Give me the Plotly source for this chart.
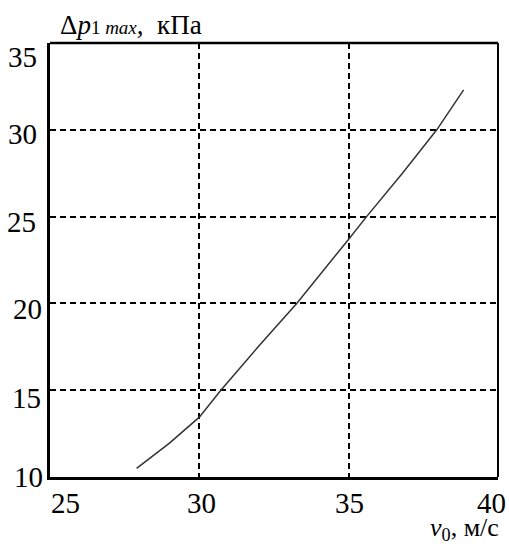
import plotly.graph_objects as go

# Data
v0 = [27.9, 29.0, 30.0, 30.72, 31.97, 33.26, 35.0, 35.6, 36.8, 37.95, 38.85]
dp = [10.5, 11.95, 13.45, 15.0, 17.5, 20.0, 23.7, 25.0, 27.5, 30.0, 32.3]

x_ticks = [25, 30, 35, 40]
y_ticks = [10, 15, 20, 25, 30, 35]

FONT = "Liberation Serif, Times New Roman, serif"
W, H = 509, 546
ML, MR, MT, MB = 50, 11, 43, 69
PW, PH = W - ML - MR, H - MT - MB


def px_x(px):
    return (px - ML) / PW


def px_y(py):
    return (H - MB - py) / PH


fig = go.Figure()
fig.add_trace(go.Scatter(x=v0, y=dp, mode="lines",
                         line=dict(color="#333333", width=1.5),
                         showlegend=False, hoverinfo="skip"))

fig.update_layout(
    width=W, height=H,
    margin=dict(l=ML, r=MR, t=MT, b=MB),
    paper_bgcolor="white", plot_bgcolor="white",
    font=dict(family=FONT, color="black", size=28),
    xaxis=dict(range=[25, 40], tickvals=[30, 35], showticklabels=False, ticks="",
               showgrid=True, gridcolor="black", gridwidth=1.5, griddash="6px,4px",
               showline=True, linecolor="black", linewidth=3, zeroline=False),
    yaxis=dict(range=[10, 35], tickvals=[15, 20, 25, 30], showticklabels=False, ticks="",
               showgrid=True, gridcolor="black", gridwidth=1.5, griddash="6px,4px",
               showline=True, linecolor="black", linewidth=3, zeroline=False),
)

# top and right frame lines (thinner)
fig.add_shape(type="line", xref="paper", yref="paper", x0=0, x1=1, y0=1, y1=1,
              line=dict(color="black", width=2.5))
fig.add_shape(type="line", xref="paper", yref="paper", x0=1, x1=1, y0=0, y1=1,
              line=dict(color="black", width=2))

# y tick labels (positioned like the reference)
y_shift = {10: 0, 15: -8, 20: -5.5, 25: -5, 30: -4, 35: -14}
y_xshift = {10: -5, 15: -7, 20: -6, 25: -12, 30: -11, 35: -11}
for v in y_ticks:
    fig.add_annotation(x=25, y=v, xref="x", yref="y", text=str(v), showarrow=False,
                       xanchor="right", yanchor="middle", xshift=y_xshift[v],
                       yshift=y_shift[v],
                       font=dict(family=FONT, size=29, color="black"))

# x tick labels
x_xshift = {25: 15, 30: 2, 35: 1, 40: -7}
for v in x_ticks:
    fig.add_annotation(x=v, y=10, xref="x", yref="y", text=str(v), showarrow=False,
                       xanchor="center", yanchor="middle", xshift=x_xshift[v], yshift=-26,
                       font=dict(family=FONT, size=29, color="black"))

# axis titles
fig.add_annotation(x=px_x(58), y=px_y(25), xref="paper", yref="paper",
                   xanchor="left", yanchor="middle", showarrow=False,
                   text="Δ<i>p</i><span style='font-size:19px'>1 <i>max</i></span>,  кПа",
                   font=dict(family=FONT, size=27, color="black"))
fig.add_annotation(x=px_x(501), y=px_y(529), xref="paper", yref="paper",
                   xanchor="right", yanchor="middle", showarrow=False,
                   text="<i>v</i><sub>0</sub>, м/с",
                   font=dict(family=FONT, size=26, color="black"))

fig.write_html("out.html", config={"displayModeBar": False},
               post_script="document.body.style.margin='0';document.body.style.overflow='hidden';")
